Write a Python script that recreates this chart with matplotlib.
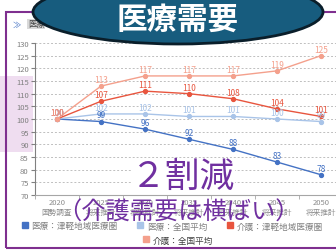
import matplotlib
matplotlib.use('Agg')
import matplotlib.pyplot as plt
import numpy as np
from matplotlib.patches import Ellipse, Rectangle
from matplotlib.lines import Line2D

plt.rcParams['font.family'] = ['Noto Sans CJK JP', 'DejaVu Sans']

years = ['2020', '2025', '2030', '2035', '2040', '2045', '2050']
sources = ['国勢調査'] + ['将来推計'] * 6
iryo_tsugaru = [100, 99, 96, 92, 88, 83, 78]
iryo_zenkoku = [100, 102, 102, 101, 101, 100, 99]
kaigo_tsugaru = [100, 107, 111, 110, 108, 104, 101]
kaigo_zenkoku = [100, 113, 117, 117, 117, 119, 125]
names = ['医療：津軽地域医療圏', '医療：全国平均', '介護：津軽地域医療圏', '介護：全国平均']
colors = ['#4472C4', '#A9C4E8', '#E8553E', '#F4A08C']

W, H = 336, 253
fig = plt.figure(figsize=(W / 100, H / 100), dpi=100)
fig.patch.set_facecolor('white')

# slide decorations
fig.patches.append(Rectangle((0, 1 - 153 / H), 33 / W, 76 / H, transform=fig.transFigure,
                             fc='#EFDDF0', ec='none', zorder=-2))
fig.patches.append(Rectangle((6 / W, 4 / H), 340 / W, 236 / H, transform=fig.transFigure,
                             fc='none', ec='#7F2F8F', lw=1.5, zorder=1))
fig.text(13 / W, 1 - 25 / H, '≫', color='#4472C4', fontsize=6, va='center', zorder=2)
fig.text(28 / W, 1 - 25 / H, '医療', color='#404040', fontsize=6, va='center', zorder=2,
         bbox=dict(fc='#D9D9D9', ec='none', pad=0.5))

ax = fig.add_axes([35 / W, 57 / H, 308 / W, 152 / H])
ax.set_facecolor('none')
x = np.arange(len(years))
series = [iryo_tsugaru, iryo_zenkoku, kaigo_tsugaru, kaigo_zenkoku]
for vals, c in zip(series, colors):
    ax.plot(x, vals, color=c, lw=1, marker='o', ms=2.8, zorder=3)
    for i, v in enumerate(vals):
        ax.annotate(str(v), (i, v), xytext=(0, 1.5), textcoords='offset points',
                    ha='center', va='bottom', fontsize=6, color=c, zorder=4)

ax.set_xlim(-0.5, 6.5)
ax.set_ylim(70, 130)
ax.set_yticks(range(70, 131, 5))
ax.yaxis.grid(True, ls=(0, (2, 2)), color='#BFBFBF', lw=0.7)
ax.set_axisbelow(True)
for s in ['top', 'right']:
    ax.spines[s].set_visible(False)
ax.spines['left'].set_color('#808080')
ax.spines['bottom'].set_color('#A6A6A6')
ax.spines['left'].set_linewidth(0.8)
ax.spines['bottom'].set_linewidth(0.8)
ax.set_xticks(x)
ax.set_xticklabels([f'{y}\n{s}' for y, s in zip(years, sources)], linespacing=1.3)
ax.set_xticks(np.arange(-0.5, 7, 1), minor=True)
ax.tick_params(axis='x', which='major', length=0, pad=2, labelsize=5.5, labelcolor='#8C8C8C')
ax.tick_params(axis='x', which='minor', length=3, color='#A6A6A6')
ax.tick_params(axis='y', length=3, width=0.8, color='#808080', pad=1.5,
               labelsize=5.5, labelcolor='#7F7F7F')

# legend
handles = [Line2D([], [], marker='s', ls='none', color=c, ms=4.5) for c in colors]
fig.legend(handles[:3], names[:3], loc='center', bbox_to_anchor=(172 / W, 1 - 227 / H),
           ncol=3, frameon=False, fontsize=6.2, handlelength=0.8, handletextpad=0.4,
           columnspacing=2.2, labelcolor='#7F7F7F', borderpad=0, borderaxespad=0)
fig.legend(handles[3:], names[3:], loc='center', bbox_to_anchor=(178 / W, 1 - 241 / H),
           frameon=False, fontsize=6.2, handlelength=0.8, handletextpad=0.4,
           labelcolor='#404040', borderpad=0, borderaxespad=0)

# title balloon
fig.patches.append(Ellipse((178 / W, 1 - 13 / H), 290 / W, 64 / H, transform=fig.transFigure,
                           fc='#175C7E', ec='#0A1E2A', lw=2, zorder=5))
fig.text(178 / W, 1 - 20 / H, '医療需要', color='white', fontsize=22, fontweight='bold',
         ha='center', va='center', zorder=6)

# overlay notes
fig.text(183 / W, 1 - 177 / H, '２割減', color='#7030A0', fontsize=25,
         ha='center', va='center', zorder=7, bbox=dict(fc='white', ec='none', pad=0))
fig.text(178 / W, 1 - 213 / H, '（介護需要は横ばい）', color='#7030A0', fontsize=17.5,
         ha='center', va='center', zorder=7)

fig.savefig('out.png', dpi=100)
